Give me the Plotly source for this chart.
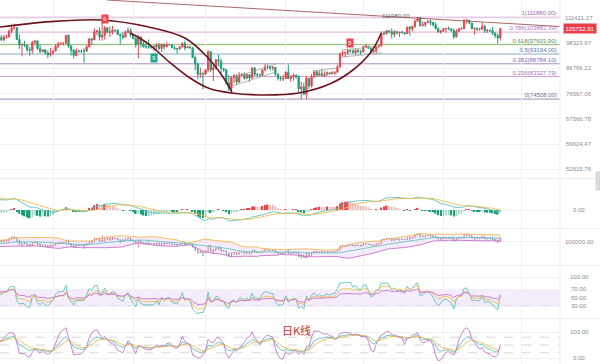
import numpy as np
import pandas as pd
import plotly.graph_objects as go
from plotly.subplots import make_subplots

# ---------------- data (daily candles, incl. warm-up days left of the view) ----------------
START = "2024-11-01"
END = "2025-06-23"
VIEW_START = "2024-12-11 12:00"
VIEW_END = "2025-07-16 02:00"

OPEN = [
 70200, 69500, 69300, 68750, 67800, 69350, 75600, 75850, 76500, 76650,
 80350, 88700, 87950, 90400, 87300, 91050, 90600, 89850, 90450, 92300,
 94300, 98350, 98900, 97800, 98000, 93000, 91950, 95950, 95650, 97450,
 96400, 97200, 95850, 96000, 98750, 97000, 99850, 99900, 101100, 97300,
 96600, 101100, 100000, 101400, 101400, 104450, 106050, 106150, 100200, 97450,
 97750, 97300, 95200, 94900, 98700, 99400, 95800, 94300, 95200, 93700,
 92800,
 93550, 94600, 96900, 98100, 98250, 98350, 102250, 96950, 95050, 92500,
 94700, 94550, 94500, 94500, 96550, 100500, 99950, 104100, 104550, 101350,
 102250, 106150, 103650, 103950, 104800, 104700, 102600, 102100, 101300, 103750,
 104750,
 102400, 100650, 97700, 101400, 97900, 96600, 96550, 96450, 96450, 96450,
 97400, 95800, 97850, 96600, 97500, 97550, 96100, 95750, 95550, 96600,
 98250, 96100, 96600, 96100, 91550, 88700, 84250, 84700,
 84350, 86050, 94250, 86100, 87250, 90600, 89950, 86750, 86150, 80750,
 78600, 82850, 83700, 81100, 83950, 84350, 82600, 84050, 82700, 86850,
 84200, 84050, 83850, 86100, 87500, 87450, 86900, 87200, 84350, 82650,
 82400,
 82550, 85150, 82500, 83100, 83850, 83500, 78400, 79150, 76300, 82600,
 79600, 83400, 85300, 83750, 84550, 83650, 84050, 84950, 84450, 85050,
 85150, 87500, 93450, 93700, 93950, 94700, 94650, 93750, 94950, 94250,
 94150, 96500, 96900, 95850, 94300, 94750, 96850, 97050, 103250, 102950,
 104650, 104100, 102800, 104150, 103500, 103750, 103550, 103100, 106450, 105600,
 106800, 109650, 111700, 107300, 107800, 109000, 109450, 108950, 107800, 105650,
 103950,
 104600, 105700, 105850, 105400, 104700, 101550, 104300, 105650, 105750, 110250,
 110250, 108650, 105650, 105950, 105400, 105550, 106800, 104550, 104850, 104650,
 103300, 102100, 100950]

HIGH = [
 71600, 70000, 69400, 69000, 70600, 76400, 76950, 77200, 76900, 81500,
 89500, 89950, 93250, 91800, 91800, 91850, 91450, 92600, 94000, 94900,
 98950, 99600, 98950, 98650, 98900, 94850, 97350, 96650, 98700, 97500,
 97900, 98150, 96300, 99000, 104100, 102050, 100550, 101400, 101250, 98250,
 101900, 102500, 102500, 102650, 105250, 107800, 108350, 106500, 102800, 98150,
 99550, 97400, 96500, 99500, 99950, 99950, 97550, 95500, 95200, 94900,
 96150,
 95000, 97850, 98950, 98750, 98800, 102500, 102700, 97250, 95350, 95850,
 95050, 95400, 95900, 97350, 100700, 100850, 105850, 104950, 106300, 109600,
 107250, 106400, 106850, 107100, 105300, 105500, 103200, 103800, 104800, 106450,
 106000,
 102750, 101450, 102500, 101750, 99000, 99000, 100150, 96850, 97300, 98300,
 98500, 98100, 97950, 98800, 97950, 97700, 97000, 96000, 96850, 98700,
 99500, 96950, 96700, 96500, 92500, 89300, 87000, 85100,
 86550, 95000, 94400, 88900, 91000, 92800, 91200, 86900, 86500, 83950,
 83600, 84350, 84300, 85300, 84650, 85100, 84750, 84100, 87450, 87450,
 84800, 84550, 86100, 88800, 88550, 88300, 87800, 87500, 84600, 83550,
 83950,
 85550, 88500, 83950, 84700, 84250, 83800, 81250, 80850, 83600, 82700,
 84300, 85900, 86100, 85800, 86500, 85500, 85450, 85100, 85600, 85300,
 88450, 93800, 94700, 94000, 95750, 95300, 95350, 95600, 95450, 95200,
 97450, 97900, 96950, 96300, 95200, 96900, 97750, 104150, 104350, 104950,
 104950, 105800, 104950, 104300, 104150, 104550, 103700, 106650, 107100, 107300,
 110800, 111980, 111800, 109500, 109300, 110400, 110700, 109300, 108900, 106300,
 104900,
 105900, 105950, 106800, 106000, 105900, 105450, 105950, 106500, 110600, 110400,
 110400, 108800, 106200, 106250, 106100, 108950, 107750, 105550, 105250, 106550,
 104000, 103100, 106100]

LOW = [
 68800, 69000, 67500, 66800, 67450, 69300, 74750, 75600, 75700, 76500,
 80200, 85100, 86100, 86650, 87100, 90100, 88750, 89400, 90400, 91500,
 94100, 97200, 97150, 95800, 92600, 90800, 91800, 94650, 95400, 96000,
 95700, 94500, 93600, 94650, 91000, 96450, 98900, 98800, 94150, 94250,
 95700, 99300, 99200, 100600, 101200, 103300, 105300, 100000, 95600, 92100,
 96400, 94200, 92400, 93400, 97600, 95150, 93500, 94000, 92900, 91300,
 92000,
 92750, 94400, 96000, 97500, 97250, 97900, 96100, 92500, 91200, 92200,
 93850, 93700, 89250, 94300, 96500, 97350, 99950, 102300, 99600, 99550,
 100100, 103300, 101250, 102750, 104100, 102500, 97800, 100300, 101300, 103300,
 101550,
 100300, 96150, 91250, 96150, 96250, 95700, 95650, 95700, 94700, 95250,
 94900, 94100, 95200, 96500, 97200, 96050, 95200, 93350, 95300, 96250,
 94850, 95900, 95650, 91350, 86050, 82250, 82800, 78250,
 83800, 85050, 85100, 81500, 86300, 87800, 84700, 85250, 80000, 77450,
 76600, 80650, 79950, 80800, 83700, 82050, 82450, 81150, 82600, 83650,
 83200, 83600, 83800, 85550, 86300, 85850, 85850, 83650, 81650, 81550,
 81300,
 82450, 82300, 81200, 81650, 82350, 77150, 74500, 76250, 74600, 78450,
 78950, 82750, 83050, 83700, 83600, 83100, 83750, 84350, 84350, 83950,
 85150, 87050, 91950, 91650, 92800, 93900, 93600, 92850, 93850, 92900,
 94100, 96350, 95750, 94150, 93500, 93400, 95850, 96900, 102300, 102850,
 103400, 100700, 101400, 102600, 101350, 103100, 102600, 103100, 102000, 104200,
 106100, 109200, 106800, 106900, 106600, 108700, 107550, 106800, 105300, 103600,
 103100,
 103900, 103700, 104900, 104150, 100400, 101100, 104000, 105100, 105350, 108350,
 108050, 105450, 102650, 104300, 104500, 104950, 103350, 103550, 103900, 102350,
 100850, 98200, 99600]

CLOSE = [
 69500, 69300, 68750, 67800, 69350, 75600, 75850, 76500, 76650, 80350,
 88700, 87950, 90400, 87300, 91050, 90600, 89850, 90450, 92300, 94300,
 98350, 98900, 97800, 98000, 93000, 91950, 95950, 95650, 97450, 96400,
 97200, 95850, 96000, 98750, 97000, 99850, 99900, 101100, 97300, 96600,
 101100, 100000, 101400, 101400, 104450, 106050, 106150, 100200, 97450, 97750,
 97300, 95200, 94900, 98700, 99400, 95800, 94300, 95200, 93700, 92800,
 93550,
 94600, 96900, 98100, 98250, 98350, 102250, 96950, 95050, 92500, 94700,
 94550, 94500, 94500, 96550, 100500, 99950, 104100, 104550, 101350, 102250,
 106150, 103650, 103950, 104800, 104700, 102600, 102100, 101300, 103750, 104750,
 102400,
 100650, 97700, 101400, 97900, 96600, 96550, 96450, 96450, 96450, 97400,
 95800, 97850, 96600, 97500, 97550, 96100, 95750, 95550, 96600, 98250,
 96100, 96600, 96100, 91550, 88700, 84250, 84700, 84350,
 86050, 94250, 86100, 87250, 90600, 89950, 86750, 86150, 80750, 78600,
 82850, 83700, 81100, 83950, 84350, 82600, 84050, 82700, 86850, 84200,
 84050, 83850, 86100, 87500, 87450, 86900, 87200, 84350, 82650, 82400,
 82550,
 85150, 82500, 83100, 83850, 83500, 78400, 79150, 76300, 82600, 79600,
 83400, 85300, 83750, 84550, 83650, 84050, 84950, 84450, 85050, 85150,
 87500, 93450, 93700, 93950, 94700, 94650, 93750, 94950, 94250, 94150,
 96500, 96900, 95850, 94300, 94750, 96850, 97050, 103250, 102950, 104650,
 104100, 102800, 104150, 103500, 103750, 103550, 103100, 106450, 105600, 106800,
 109650, 111700, 107300, 107800, 109000, 109450, 108950, 107800, 105650, 103950,
 104600,
 105700, 105850, 105400, 104700, 101550, 104300, 105650, 105750, 110250, 110250,
 108650, 105650, 105950, 105400, 105550, 106800, 104550, 104850, 104650, 103300,
 102100, 100950, 105732.91]

# Fibonacci retracement
FIB_RATIOS = ["1", "0.786", "0.618", "0.5", "0.382", "0.236", "0"]
FIB_PRICES = [111880.00, 103882.39, 97603.90, 93194.00, 88784.10, 83327.79, 74508.00]
FIB_LINE_COLORS = ["#dcb3dd", "#dca6d9", "#8db36e", "#8aaac0", "#a98bc8", "#cf9ad8", "#9a8ab0"]
FIB_TEXT_COLORS = ["#a46eaa", "#b173b4", "#5f8d3f", "#5576a6", "#8565ad", "#a66db3", "#7766a0"]

# axis labels
PRICE_TICKS = [111421.27, 98323.97, 86766.22, 76567.06, 67566.78, 59624.47, 52615.76]
MACD_TICKS = [0.0]
BOLL_TICKS = [100000.0]
RSI_TICKS = [100.0, 70.0, 50.0, 30.0]
KDJ_TICKS = [100.0, 0.0]
RSI_BAND = [30, 70]
KDJ_LEVELS = [20, 50, 80]

LAST_PRICE = 105732.91
HIGH_LABEL_DATE = "2025-05-22"
HIGH_LABEL_PRICE = 111980.00

# TD sequential "9" marks
TD_DATES = ["2025-01-21", "2025-02-09", "2025-04-26"]
TD_PRICES = [111140, 91360, 98400]
TD_UP = [True, False, True]

# hand drawn shapes (date, price)
DOME_DATES = ["2024-12-11 12:00", "2024-12-31", "2025-01-20", "2025-02-07", "2025-02-21",
              "2025-03-02", "2025-03-08", "2025-03-11 05:00"]
DOME_PRICES = [106550, 109450, 110320, 106550, 100880, 91360, 82730, 77180]
CUP_DATES = ["2025-01-31", "2025-02-07", "2025-02-15", "2025-02-23", "2025-03-02",
             "2025-03-11", "2025-03-24", "2025-04-06", "2025-04-18", "2025-04-27",
             "2025-05-04", "2025-05-08"]
CUP_PRICES = [103420, 97920, 89560, 82730, 78730, 76800, 76040, 76800, 80300, 86080, 94120, 103420]
TREND_DATES = ["2025-01-21 21:00", "2025-07-16"]
TREND_PRICES = [121830, 106820]
CHANNEL_DATES = [["2025-03-11 05:00", "2025-03-28 05:00"], ["2025-03-12 19:00", "2025-03-28 05:00"],
                 ["2025-04-11 12:00", "2025-04-21 05:00"], ["2025-04-11 12:00", "2025-04-21 05:00"],
                 ["2025-04-22 19:00", "2025-05-08 05:00"], ["2025-04-22 19:00", "2025-05-08 05:00"]]
CHANNEL_PRICES = [[79500, 85230], [83150, 88680],
                  [85660, 86940], [83570, 84820],
                  [95070, 96970], [91820, 93660]]

# ---------------- indicators ----------------
dates = pd.date_range(START, END, freq="D")
o = pd.Series(OPEN, index=dates, dtype=float)
h = pd.Series(HIGH, index=dates, dtype=float)
l = pd.Series(LOW, index=dates, dtype=float)
c = pd.Series(CLOSE, index=dates, dtype=float)


def sma_cn(s, n, m=1):
    return s.ewm(alpha=m / n, adjust=False).mean()


ema12 = c.ewm(span=12, adjust=False).mean()
ema26 = c.ewm(span=26, adjust=False).mean()
dif = ema12 - ema26
dea = dif.ewm(span=9, adjust=False).mean()
hist = 2 * (dif - dea)

d = c.diff().fillna(0)
rsi = {}
for n in (6, 12, 24):
    rsi[n] = sma_cn(d.clip(lower=0), n) / sma_cn(d.abs(), n).replace(0, np.nan) * 100

llv = l.rolling(9, min_periods=1).min()
hhv = h.rolling(9, min_periods=1).max()
rsv = (c - llv) / (hhv - llv) * 100
K = sma_cn(rsv, 3)
D = sma_cn(K, 3)
J = 3 * K - 2 * D

mid = c.rolling(20, min_periods=1).mean()
sd = c.rolling(20, min_periods=1).std(ddof=0)
upper = mid + 2 * sd
lower = mid - 2 * sd

# ---------------- figure ----------------
RED = "#e8474f"
GREEN = "#1f9f78"
TEAL = "#58c3bc"
ORANGE = "#f0bb50"
PURPLE = "#c774cc"

W, H = 600, 364
PLOT_W = 560


def py(px):
    return 1 - px / H


fig = make_subplots(rows=5, cols=1, shared_xaxes=True, vertical_spacing=0)

fig.add_trace(go.Candlestick(
    x=dates, open=o, high=h, low=l, close=c,
    increasing=dict(line=dict(color=RED, width=1), fillcolor=RED),
    decreasing=dict(line=dict(color=GREEN, width=1), fillcolor=GREEN),
    whiskerwidth=0, hoverinfo="skip"), row=1, col=1)

# drawings
fig.add_trace(go.Scatter(x=TREND_DATES, y=TREND_PRICES, mode="lines",
                         line=dict(color="#a8686a", width=1), hoverinfo="skip"), row=1, col=1)
for cd, cp in zip(CHANNEL_DATES, CHANNEL_PRICES):
    fig.add_trace(go.Scatter(x=cd, y=cp, mode="lines",
                             line=dict(color="#9ea88e", width=0.8), hoverinfo="skip"), row=1, col=1)
fig.add_trace(go.Scatter(x=DOME_DATES, y=DOME_PRICES, mode="lines",
                         line=dict(color="#6e1420", width=1.6, shape="spline", smoothing=1.0),
                         hoverinfo="skip"), row=1, col=1)
fig.add_trace(go.Scatter(x=CUP_DATES, y=CUP_PRICES, mode="lines",
                         line=dict(color="#6e1420", width=1.6, shape="spline", smoothing=1.0),
                         hoverinfo="skip"), row=1, col=1)

# MACD
hcol = []
prev = 0.0
for v in hist.values:
    if v >= 0:
        hcol.append(RED if v >= prev else "rgba(232,71,79,0.45)")
    else:
        hcol.append(GREEN if v <= prev else "rgba(31,159,120,0.45)")
    prev = v
fig.add_trace(go.Bar(x=dates, y=hist, marker=dict(color=hcol, line=dict(width=0)),
                     width=0.6 * 86400000, hoverinfo="skip"), row=2, col=1)
fig.add_trace(go.Scatter(x=dates, y=dif, mode="lines", line=dict(color=TEAL, width=0.9),
                         hoverinfo="skip"), row=2, col=1)
fig.add_trace(go.Scatter(x=dates, y=dea, mode="lines", line=dict(color=ORANGE, width=0.9),
                         hoverinfo="skip"), row=2, col=1)

# BOLL panel
fig.add_trace(go.Scatter(x=dates, y=lower, mode="lines", line=dict(color=PURPLE, width=0.9),
                         hoverinfo="skip"), row=3, col=1)
fig.add_trace(go.Scatter(x=dates, y=upper, mode="lines", line=dict(color=ORANGE, width=0.9),
                         fill="tonexty", fillcolor="rgba(215,165,230,0.22)", hoverinfo="skip"),
              row=3, col=1)
fig.add_trace(go.Scatter(x=dates, y=mid, mode="lines", line=dict(color=TEAL, width=0.8),
                         hoverinfo="skip"), row=3, col=1)
fig.add_trace(go.Ohlc(x=dates, open=o, high=h, low=l, close=c, tickwidth=0.3,
                      increasing=dict(line=dict(color="#d9545a", width=0.8)),
                      decreasing=dict(line=dict(color="#4a7f93", width=0.8)),
                      hoverinfo="skip"), row=3, col=1)

# RSI
for n, col in zip((6, 12, 24), (TEAL, ORANGE, PURPLE)):
    fig.add_trace(go.Scatter(x=dates, y=rsi[n], mode="lines", line=dict(color=col, width=0.9),
                             hoverinfo="skip"), row=4, col=1)

# KDJ
for s, col in zip((K, D, J), (TEAL, ORANGE, PURPLE)):
    fig.add_trace(go.Scatter(x=dates, y=s, mode="lines", line=dict(color=col, width=0.9),
                             hoverinfo="skip"), row=5, col=1)

# ---------------- axes ----------------
for i in range(1, 6):
    fig.update_xaxes(type="date", range=[VIEW_START, VIEW_END], showgrid=True,
                     gridcolor="#f1f1f1", gridwidth=1, dtick="M1", tick0="2025-01-01",
                     showticklabels=False, ticks="", zeroline=False, showline=False,
                     rangeslider_visible=False, row=i, col=1)

vis = dates >= pd.Timestamp(VIEW_START)
mx = float(np.nanmax(np.abs(np.concatenate([dif[vis].values, dea[vis].values]))))
macd_px = mx / 13.0  # value per pixel

panels = [
    dict(dom=(0, 178), kw=dict(type="log", range=[4.70214, 5.08576], tickvals=PRICE_TICKS)),
    dict(dom=(179, 228), kw=dict(range=[-(228 - 210) * macd_px, (210 - 179) * macd_px], tickvals=MACD_TICKS)),
    dict(dom=(229, 265), kw=dict(range=[65000, 119000], tickvals=BOLL_TICKS)),
    dict(dom=(266, 318.5), kw=dict(range=[0, 126.5], tickvals=RSI_TICKS)),
    dict(dom=(319, 364), kw=dict(range=[-23, 150], tickvals=KDJ_TICKS)),
]
for i, p in enumerate(panels, start=1):
    fig.update_yaxes(domain=[py(p["dom"][1]), py(p["dom"][0])], showticklabels=False,
                     showgrid=True, gridcolor="#f1f1f1", zeroline=False, showline=False,
                     ticks="", side="right", row=i, col=1, **p["kw"])

shapes = []
annotations = []
# Fibonacci lines & labels
for r, pr, lc, tc in zip(FIB_RATIOS, FIB_PRICES, FIB_LINE_COLORS, FIB_TEXT_COLORS):
    shapes.append(dict(type="line", xref="paper", x0=0, x1=1, yref="y", y0=pr, y1=pr,
                       line=dict(color=lc, width=1), layer="below"))
    annotations.append(dict(xref="paper", x=558 / PLOT_W, yref="y", y=np.log10(pr),
                            xanchor="right", yanchor="bottom", showarrow=False,
                            text=f"{r}({pr:.2f})", font=dict(size=6, color=tc), borderpad=0.5))

# RSI band and dashed levels
shapes.append(dict(type="rect", xref="paper", x0=0, x1=1, yref="y4", y0=RSI_BAND[0], y1=RSI_BAND[1],
                   fillcolor="#f4ebfc", line=dict(width=0), layer="below"))
for lv in RSI_BAND:
    shapes.append(dict(type="line", xref="paper", x0=0, x1=1, yref="y4", y0=lv, y1=lv,
                       line=dict(color="#c8c8c8", width=0.8, dash="dash"), layer="below"))
for lv in KDJ_LEVELS:
    shapes.append(dict(type="line", xref="paper", x0=0, x1=1, yref="y5", y0=lv, y1=lv,
                       line=dict(color="#cccccc", width=0.8, dash="dash"), layer="below"))

# panel separators and right border
for ypx in (178.5, 228.5, 265.5, 318.5):
    shapes.append(dict(type="line", xref="paper", x0=0, x1=W / PLOT_W, yref="paper",
                       y0=py(ypx), y1=py(ypx), line=dict(color="#ededed", width=1)))
shapes.append(dict(type="line", xref="paper", x0=1, x1=1, yref="paper", y0=0, y1=1,
                   line=dict(color="#ededed", width=1)))
# scroll handle at right edge
shapes.append(dict(type="rect", xref="paper", x0=596 / PLOT_W, x1=600 / PLOT_W, yref="paper",
                   y0=py(190), y1=py(172), fillcolor="#dddddd", line=dict(color="#bbbbbb", width=0.5)))

LBL_X = 579 / PLOT_W
lblfont = dict(size=6, color="#8c8c8c")
for t in PRICE_TICKS:
    annotations.append(dict(xref="paper", x=LBL_X, yref="y", y=np.log10(t), text=f"{t:.2f}",
                            showarrow=False, xanchor="center", yanchor="middle", font=lblfont))
for ax, ticks in (("y2", MACD_TICKS), ("y3", BOLL_TICKS), ("y4", RSI_TICKS), ("y5", KDJ_TICKS)):
    for t in ticks:
        annotations.append(dict(xref="paper", x=LBL_X, yref=ax, y=t, text=f"{t:.2f}",
                                showarrow=False, xanchor="center", yanchor="middle", font=lblfont))

# last price tag
annotations.append(dict(xref="paper", x=LBL_X + 0.002, yref="y", y=np.log10(LAST_PRICE),
                        text=f"{LAST_PRICE:.2f}", showarrow=False, xanchor="center", yanchor="middle",
                        font=dict(size=6, color="white"), bgcolor="#e53e47", borderpad=1.5))

# high label
annotations.append(dict(x=HIGH_LABEL_DATE, xref="x", y=np.log10(HIGH_LABEL_PRICE), yref="y",
                        text=f"{HIGH_LABEL_PRICE:.2f}", showarrow=False, xanchor="right",
                        yanchor="middle", xshift=-6, yshift=1, font=dict(size=6, color="#666666")))

# TD markers
for dt, pr, up in zip(TD_DATES, TD_PRICES, TD_UP):
    annotations.append(dict(x=dt, xref="x", y=np.log10(pr), yref="y", text="9", showarrow=False,
                            xanchor="center", yanchor="middle",
                            font=dict(size=6, color="white"),
                            bgcolor=RED if up else "#22a887", borderpad=1))

# caption
annotations.append(dict(xref="paper", x=296 / PLOT_W, yref="paper", y=py(330), text="日K线",
                        showarrow=False, xanchor="center", yanchor="middle",
                        font=dict(size=11, color="#c9302c", family="Noto Sans CJK SC")))

fig.update_layout(
    width=W, height=H, margin=dict(l=0, r=W - PLOT_W, t=0, b=0),
    paper_bgcolor="white", plot_bgcolor="white", showlegend=False,
    font=dict(family="Liberation Sans, Arial, sans-serif", size=6, color="#8c8c8c"),
    shapes=shapes, annotations=annotations, bargap=0.4, hovermode=False,
)

fig.write_html("out.html")
